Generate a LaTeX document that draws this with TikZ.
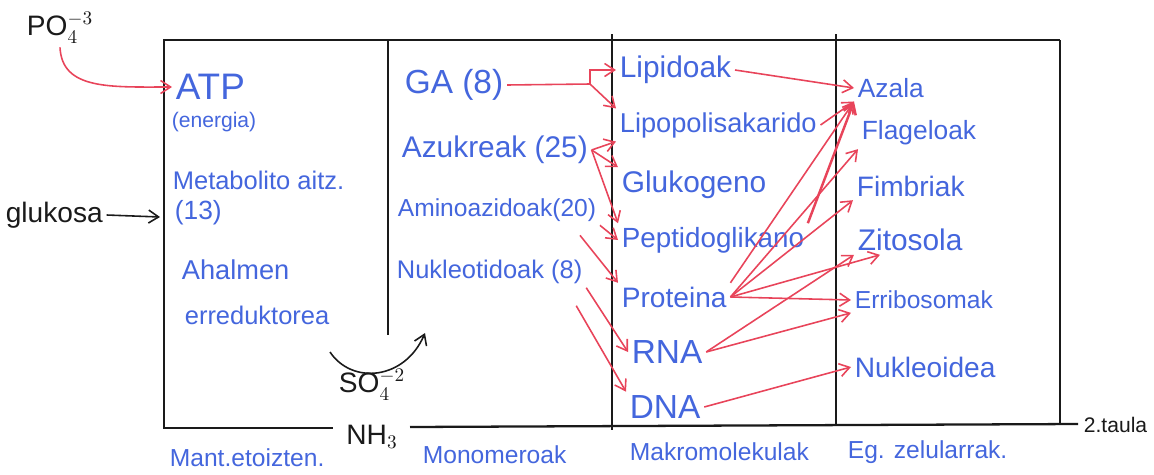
\documentclass[tikz,border=0pt]{standalone}
\usepackage{fontspec}
\setmainfont{Liberation Sans}
\usetikzlibrary{
  arrows.meta,
  calc,
  positioning
}
\definecolor{penBlue}{HTML}{4466DD}
\definecolor{penRed}{HTML}{E8445A}
\definecolor{penInk}{HTML}{1A1A1A}
\tikzset{
  every node/.style={inner sep=2pt},
  entry/.style={anchor=west, text=penBlue},
  foot/.style={anchor=west, text=penBlue, font=\fontsize{14}{16}\selectfont},
  pencil/.style={text=penInk, font=\fontsize{16}{18}\selectfont},
  frame/.style={draw=penInk, line width=1.3pt},
  link/.style={
    -{Straight Barb[length=2mm,width=2.6mm]},
    line width=0.9pt,
    draw=penRed
  },
  boldlink/.style={link, line width=1.4pt},
  inklink/.style={
    -{Straight Barb[length=2mm,width=2.6mm]},
    line width=0.9pt,
    draw=penInk
  }
}

\begin{document}
\begin{tikzpicture}[x=0.02cm,y=-0.02cm]
  \useasboundingbox (0,0) rectangle (1154,474);

  \draw[frame] (163,40) -- (1060,40);
  \draw[frame] (164,40) -- (164,428) -- (333,428);
  \draw[frame] (410,427) -- (1078,424);
  \draw[frame] (388,40) -- (388,335);
  \draw[frame] (612,34) -- (612,430);
  \draw[frame] (836,34) -- (836,426);
  \draw[frame] (1060,40) -- (1060,424);

  \foreach \name/\txt/\x/\y/\fs in {
    atp/ATP/172/87/21,
    energia/(energia)/168/122/12,
    metab/Metabolito aitz./169/180/14.5,
    hamairu/(13)/171/213/15,
    ahalmen/Ahalmen/178/270/15.5,
    erred/erreduktorea/181/315/14.5,
    ga/GA (8)/401/85/19,
    azuk/Azukreak (25)/398/150/17,
    amino/Aminoazidoak(20)/394/210/14,
    nukl/Nukleotidoak (8)/393/272/14.5,
    lipid/Lipidoak/616/70/17,
    lipopol/Lipopolisakarido/616/125/15.5,
    gluko/Glukogeno/618/185/17,
    peptido/Peptidoglikano/618/240/15.8,
    proteina/Proteina/618/297/16,
    rna/RNA/628/352/19,
    dna/DNA/626/407/19,
    azala/Azala/854/88/15,
    flagel/Flageloak/858/133/15,
    fimbri/Fimbriak/853/186/16,
    zitos/Zitosola/854/240/17,
    erribo/Erribosomak/851/300/14,
    nukleo/Nukleoidea/851/367/16%
  }{
    \node[entry, font=\fontsize{\fs}{\fs}\selectfont] (\name) at (\x,\y) {\txt};
  }

  \node[foot] (mant) at (166,458) {Mant.etoizten.};
  \node[foot] (mono) at (419,455) {Monomeroak};
  \node[foot] (makro) at (626,452) {Makromolekulak};
  \node[foot] (egzel) at (844,452) {Eg. zelularrak.};

  \node[pencil] (po) at (60,28) {PO$_4^{-3}$};
  \node[pencil, anchor=west] (glukosa) at (2,215) {glukosa};
  \node[pencil] (so) at (372,385) {SO$_4^{-2}$};
  \node[pencil] (nh) at (372,437) {NH$_3$};
  \node[pencil, anchor=west, font=\fontsize{12}{14}\selectfont] (taula) at (1080,425) {2.taula};

  \coordinate (boxin) at (160,217);
  \coordinate (swingA) at (330,352);
  \coordinate (swingB) at (425,333);
  \coordinate (gafork) at (590,84);
  \coordinate (aminoB) at ($(amino.south east)+(-20,10)$);
  \coordinate (nuklB) at ($(nukl.south east)+(-10,18)$);
  \coordinate (zitosB) at ($(zitos.south west)+(26,0)$);

  \draw[inklink] (glukosa.east) -- (boxin);
  \draw[inklink] (swingA) .. controls (352,385) and (405,380) .. (swingB);
  \draw[link] (po.south) .. controls (62,90) and (110,87) .. (atp.west);

  \draw[penRed, line width=0.9pt] (ga.east) -- (gafork);
  \draw[link] (gafork) |- (lipid.west);
  \draw[link] (gafork) -- (lipopol.north west);

  \foreach \src/\dst in {
    azuk.east/lipopol.south west,
    azuk.east/gluko.north west,
    azuk.east/peptido.north west,
    amino.south east/peptido.west,
    aminoB/proteina.north west,
    nukl.south east/rna.west,
    nuklB/dna.north west,
    lipid.east/azala.west,
    lipopol.east/azala.south west,
    proteina.north east/azala.south west,
    proteina.east/flagel.south west,
    proteina.east/fimbri.south west,
    proteina.east/zitosB,
    proteina.east/erribo.west,
    rna.east/zitos.south west,
    rna.east/erribo.south west,
    dna.east/nukleo.west%
  }{
    \draw[link] (\src) -- (\dst);
  }
  \draw[boldlink] (peptido.north east) -- (azala.south west);
\end{tikzpicture}
\end{document}
